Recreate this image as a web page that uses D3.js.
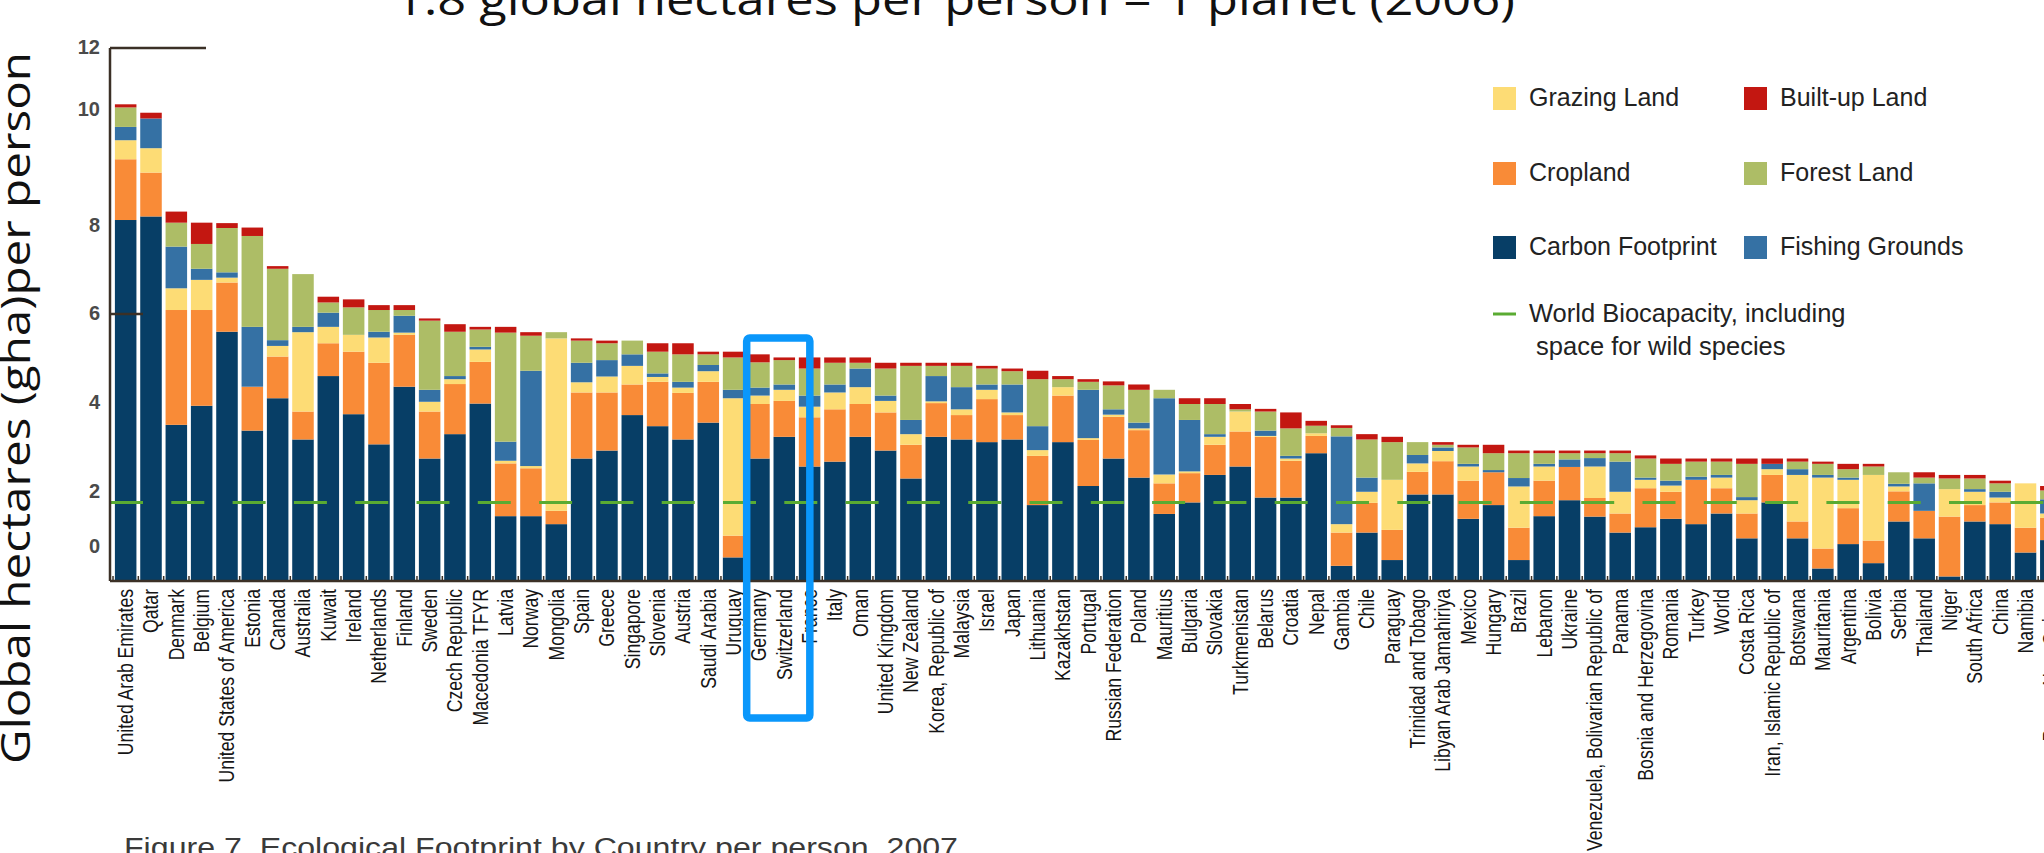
<!DOCTYPE html>
<html><head><meta charset="utf-8">
<script src="https://cdn.jsdelivr.net/npm/d3@7/dist/d3.min.js"></script>
<style>html,body{margin:0;padding:0;background:#fff;overflow:hidden}</style>
</head><body>
<svg id="chart" width="2044" height="853"></svg>
<script>
// ---------- DATA ----------
const categories = ["United Arab Emirates","Qatar","Denmark","Belgium","United States of America","Estonia","Canada","Australia","Kuwait","Ireland","Netherlands","Finland","Sweden","Czech Republic","Macedonia TFYR","Latvia","Norway","Mongolia","Spain","Greece","Singapore","Slovenia","Austria","Saudi Arabia","Uruguay","Germany","Switzerland","France","Italy","Oman","United Kingdom","New Zealand","Korea, Republic of","Malaysia","Israel","Japan","Lithuania","Kazakhstan","Portugal","Russian Federation","Poland","Mauritius","Bulgaria","Slovakia","Turkmenistan","Belarus","Croatia","Nepal","Gambia","Chile","Paraguay","Trinidad and Tobago","Libyan Arab Jamahiriya","Mexico","Hungary","Brazil","Lebanon","Ukraine","Venezuela, Bolivarian Republic of","Panama","Bosnia and Herzegovina","Romania","Turkey","World","Costa Rica","Iran, Islamic Republic of","Botswana","Mauritania","Argentina","Bolivia","Serbia","Thailand","Niger","South Africa","China","Namibia","Papua New Guinea"];

const carbon   = [8.12,8.20,3.50,3.93,5.60,3.37,4.10,3.17,4.60,3.74,3.06,4.36,2.74,3.29,3.98,1.44,1.44,1.26,2.74,2.92,3.72,3.47,3.17,3.55,0.51,2.74,3.23,2.56,2.67,3.23,2.92,2.29,3.23,3.17,3.11,3.17,1.69,3.11,2.12,2.74,2.31,1.49,1.75,2.37,2.56,1.86,1.86,2.86,0.32,1.07,0.45,1.93,1.93,1.38,1.69,0.45,1.44,1.80,1.43,1.07,1.19,1.38,1.26,1.50,0.94,1.75,0.94,0.26,0.81,0.38,1.32,0.94,0.08,1.32,1.26,0.62,0.90];
const cropland = [1.37,0.99,2.59,2.16,1.11,0.99,0.94,0.63,0.74,1.41,1.84,1.17,1.06,1.13,0.94,1.19,1.08,0.30,1.49,1.31,0.69,1.00,1.05,0.92,0.49,1.23,0.81,1.11,1.18,0.74,0.86,0.76,0.76,0.55,0.97,0.55,1.11,1.05,1.04,0.94,1.07,0.69,0.66,0.68,0.79,1.37,0.83,0.39,0.75,0.67,0.68,0.51,0.75,0.86,0.74,0.73,0.80,0.75,0.42,0.43,0.88,0.61,1.00,0.57,0.56,0.62,0.38,0.45,0.81,0.51,0.68,0.62,1.35,0.37,0.49,0.56,0.50];
const grazing  = [0.43,0.55,0.49,0.68,0.11,0.00,0.24,1.79,0.37,0.38,0.57,0.05,0.22,0.11,0.28,0.06,0.05,3.89,0.23,0.36,0.42,0.11,0.12,0.24,3.10,0.19,0.25,0.24,0.38,0.38,0.26,0.24,0.04,0.13,0.21,0.06,0.13,0.19,0.04,0.05,0.04,0.20,0.04,0.18,0.45,0.02,0.05,0.06,0.19,0.25,1.13,0.19,0.23,0.32,0.00,0.93,0.32,0.00,0.71,0.49,0.19,0.14,0.00,0.24,0.30,0.13,1.05,1.60,0.64,1.48,0.11,0.00,0.62,0.30,0.11,1.00,0.10];
const fishing  = [0.30,0.67,0.94,0.25,0.12,1.35,0.13,0.12,0.32,0.00,0.13,0.38,0.27,0.07,0.06,0.43,2.15,0.00,0.44,0.37,0.26,0.08,0.13,0.14,0.19,0.18,0.12,0.25,0.18,0.42,0.12,0.32,0.57,0.50,0.12,0.63,0.54,0.00,1.09,0.12,0.13,1.72,1.16,0.06,0.00,0.12,0.06,0.00,1.98,0.32,0.00,0.19,0.08,0.06,0.05,0.19,0.06,0.17,0.19,0.68,0.05,0.11,0.07,0.06,0.07,0.12,0.13,0.06,0.05,0.00,0.06,0.62,0.00,0.06,0.13,0.00,0.32];
const forest   = [0.44,0.00,0.54,0.56,1.00,2.05,1.61,1.19,0.23,0.62,0.49,0.13,1.56,1.00,0.39,2.46,0.79,0.14,0.50,0.38,0.31,0.49,0.62,0.24,0.73,0.57,0.55,0.61,0.49,0.13,0.61,1.22,0.23,0.48,0.36,0.30,1.06,0.18,0.18,0.54,0.74,0.19,0.36,0.68,0.05,0.43,0.62,0.17,0.19,0.86,0.85,0.29,0.06,0.37,0.38,0.56,0.24,0.14,0.11,0.19,0.43,0.38,0.34,0.30,0.75,0.00,0.17,0.25,0.19,0.19,0.26,0.13,0.24,0.24,0.19,0.00,0.20];
const builtup  = [0.07,0.13,0.25,0.48,0.11,0.19,0.06,0.00,0.13,0.18,0.11,0.11,0.05,0.17,0.06,0.13,0.08,0.00,0.05,0.06,0.00,0.19,0.25,0.06,0.13,0.18,0.06,0.25,0.12,0.12,0.13,0.07,0.07,0.07,0.06,0.06,0.19,0.07,0.06,0.09,0.12,0.00,0.13,0.13,0.12,0.06,0.36,0.11,0.06,0.12,0.12,0.00,0.06,0.06,0.19,0.06,0.06,0.06,0.06,0.06,0.07,0.12,0.07,0.07,0.12,0.12,0.07,0.05,0.12,0.06,0.00,0.12,0.08,0.08,0.06,0.00,0.10];

const worldBiocapacity = 1.75;
const yTickValues = [12, 10, 8, 6, 4, 2, 0];
// the printed "10" and "0" labels sit off their gridline in the original figure
const yTickLabelShift = {10: 0.6, 0: 0.75};

const seriesKeys = ["carbon", "cropland", "grazing", "fishing", "forest", "builtup"];
const seriesValues = {carbon, cropland, grazing, fishing, forest, builtup};
const seriesLabels = {carbon: "Carbon Footprint", cropland: "Cropland", grazing: "Grazing Land",
                      fishing: "Fishing Grounds", forest: "Forest Land", builtup: "Built-up Land"};
const legendOrder = [["grazing","builtup"],["cropland","forest"],["carbon","fishing"]];
const legendLineLabel = ["World Biocapacity, including", " space for wild species"];
const titleText = "1.8 global hectares per person = 1 planet (2006)";
const yAxisTitle = "Global hectares (gha)per person";
const captionText = "Figure 7. Ecological Footprint by Country per person, 2007";
const highlighted = ["Germany", "Switzerland"];

// ---------- STYLE ----------
const colors = {carbon: "#073e66", cropland: "#f98b37", grazing: "#fddc75",
                fishing: "#3571a4", forest: "#adbd66", builtup: "#c31711"};
const axisColor = "#3b3026";

// ---------- SCALES ----------
const svg = d3.select("#chart");
const axisX = 110, baseY = 580, topY = 48;
const x = d3.scaleBand().domain(categories).range([113, 2063.5]).paddingInner(0.15).paddingOuter(0.075);
const y = d3.scaleLinear().domain([0, 12]).range([baseY, topY]);

const rows = categories.map((c, i) => {
  const r = {country: c};
  seriesKeys.forEach(k => r[k] = seriesValues[k][i]);
  return r;
});
const stacked = d3.stack().keys(seriesKeys)(rows);

// ---------- BARS ----------
svg.append("g").selectAll("g").data(stacked).join("g")
  .attr("fill", d => colors[d.key])
  .selectAll("rect").data(d => d).join("rect")
  .attr("x", d => x(d.data.country))
  .attr("width", x.bandwidth())
  .attr("y", d => y(d[1]))
  .attr("height", d => Math.max(0, y(d[0]) - y(d[1])));

// ---------- WORLD BIOCAPACITY LINE ----------
svg.append("line")
  .attr("x1", axisX).attr("x2", 2044)
  .attr("y1", y(worldBiocapacity)).attr("y2", y(worldBiocapacity))
  .attr("stroke", "#5aab32").attr("stroke-width", 3)
  .attr("stroke-dasharray", "33 28.3");

// ---------- AXES ----------
const yAxis = d3.axisLeft(y).tickValues(yTickValues).tickSize(0).tickPadding(10).tickFormat(d3.format("d"));
const yg = svg.append("g").attr("transform", `translate(${axisX},0)`).call(yAxis);
yg.select(".domain").remove();
yg.selectAll(".tick").attr("transform", d => `translate(0,${y(d + (yTickLabelShift[d] || 0))})`);
yg.selectAll(".tick text")
  .attr("font-family", "'Liberation Sans', Arial, sans-serif")
  .attr("font-weight", "bold").attr("font-size", 20).attr("fill", "#4a4a4a");

// vertical axis line + top cap
svg.append("line").attr("x1", axisX).attr("x2", axisX).attr("y1", y(12)).attr("y2", baseY + 1)
  .attr("stroke", axisColor).attr("stroke-width", 2.5);
svg.append("line").attr("x1", axisX).attr("x2", axisX + 96).attr("y1", y(12)).attr("y2", y(12))
  .attr("stroke", axisColor).attr("stroke-width", 2.5);
// inner tick at 6
svg.append("line").attr("x1", axisX).attr("x2", axisX + 33).attr("y1", y(6)).attr("y2", y(6))
  .attr("stroke", axisColor).attr("stroke-width", 2.5);

// bottom axis
const xg = svg.append("g").attr("transform", `translate(0,${baseY})`)
  .call(d3.axisBottom(x).tickSize(0).tickFormat(""));
xg.select(".domain").remove();
svg.append("line").attr("x1", axisX).attr("x2", 2044).attr("y1", baseY + 1).attr("y2", baseY + 1)
  .attr("stroke", axisColor).attr("stroke-width", 2.5);
const gap = x.step() - x.bandwidth();
svg.append("g").selectAll("line").data(categories).join("line")
  .attr("x1", d => x(d) - gap / 2).attr("x2", d => x(d) - gap / 2)
  .attr("y1", baseY + 1).attr("y2", baseY - 4)
  .attr("stroke", axisColor).attr("stroke-width", 1.5);

// country labels (condensed)
svg.append("g").selectAll("text").data(categories).join("text")
  .attr("transform", d => `translate(${x(d) + x.bandwidth() / 2 + 7.5},589) rotate(-90) scale(0.8,1)`)
  .attr("text-anchor", "end")
  .attr("font-family", "'Liberation Sans', Arial, sans-serif")
  .attr("font-size", 22).attr("fill", "#151515")
  .text(d => d);

// ---------- LEGEND ----------
const legend = svg.append("g");
const colX = [1493, 1744], rowY = [87, 162, 236], sw = 23;
legendOrder.forEach((pair, ri) => pair.forEach((key, ci) => {
  legend.append("rect").attr("x", colX[ci]).attr("y", rowY[ri]).attr("width", sw).attr("height", sw)
    .attr("fill", colors[key]);
  legend.append("text").attr("x", colX[ci] + 36).attr("y", rowY[ri] + 19)
    .attr("font-family", "'Liberation Sans', Arial, sans-serif").attr("font-size", 25)
    .attr("fill", "#222").text(seriesLabels[key]);
}));
legend.append("line").attr("x1", 1493).attr("x2", 1516).attr("y1", 314).attr("y2", 314)
  .attr("stroke", "#5aab32").attr("stroke-width", 3);
legendLineLabel.forEach((t, i) => {
  legend.append("text").attr("x", 1529).attr("y", 322 + i * 33).attr("xml:space", "preserve")
    .style("white-space", "pre")
    .attr("font-family", "'Liberation Sans', Arial, sans-serif").attr("font-size", 25.5)
    .attr("fill", "#222").text(t);
});

// ---------- HIGHLIGHT BOX ----------
svg.append("rect")
  .attr("x", x(highlighted[0]) - 1.5)
  .attr("y", y(5.46))
  .attr("width", x(categories[categories.indexOf(highlighted[1]) + 1]) + 11 - (x(highlighted[0]) - 1.5))
  .attr("height", 380)
  .attr("rx", 3)
  .attr("fill", "none").attr("stroke", "#0a97fb").attr("stroke-width", 7.5);

// ---------- SLIDE TEXT ----------
svg.append("text").attr("x", 395).attr("y", 15)
  .attr("font-family", "'Open Sans', 'Noto Sans', sans-serif").attr("font-size", 44)
  .attr("textLength", 1120).attr("lengthAdjust", "spacingAndGlyphs")
  .attr("fill", "#111").text(titleText);

svg.append("text").attr("transform", "translate(30,764) rotate(-90)")
  .attr("font-family", "'Open Sans', 'Noto Sans', sans-serif").attr("font-size", 40)
  .attr("textLength", 712).attr("lengthAdjust", "spacingAndGlyphs")
  .attr("fill", "#111").text(yAxisTitle);

svg.append("text").attr("x", 124).attr("y", 857)
  .attr("font-family", "'Liberation Sans', Arial, sans-serif").attr("font-size", 27)
  .attr("textLength", 834).attr("lengthAdjust", "spacingAndGlyphs")
  .attr("fill", "#3a3a3a").text(captionText);
</script>
</body></html>
